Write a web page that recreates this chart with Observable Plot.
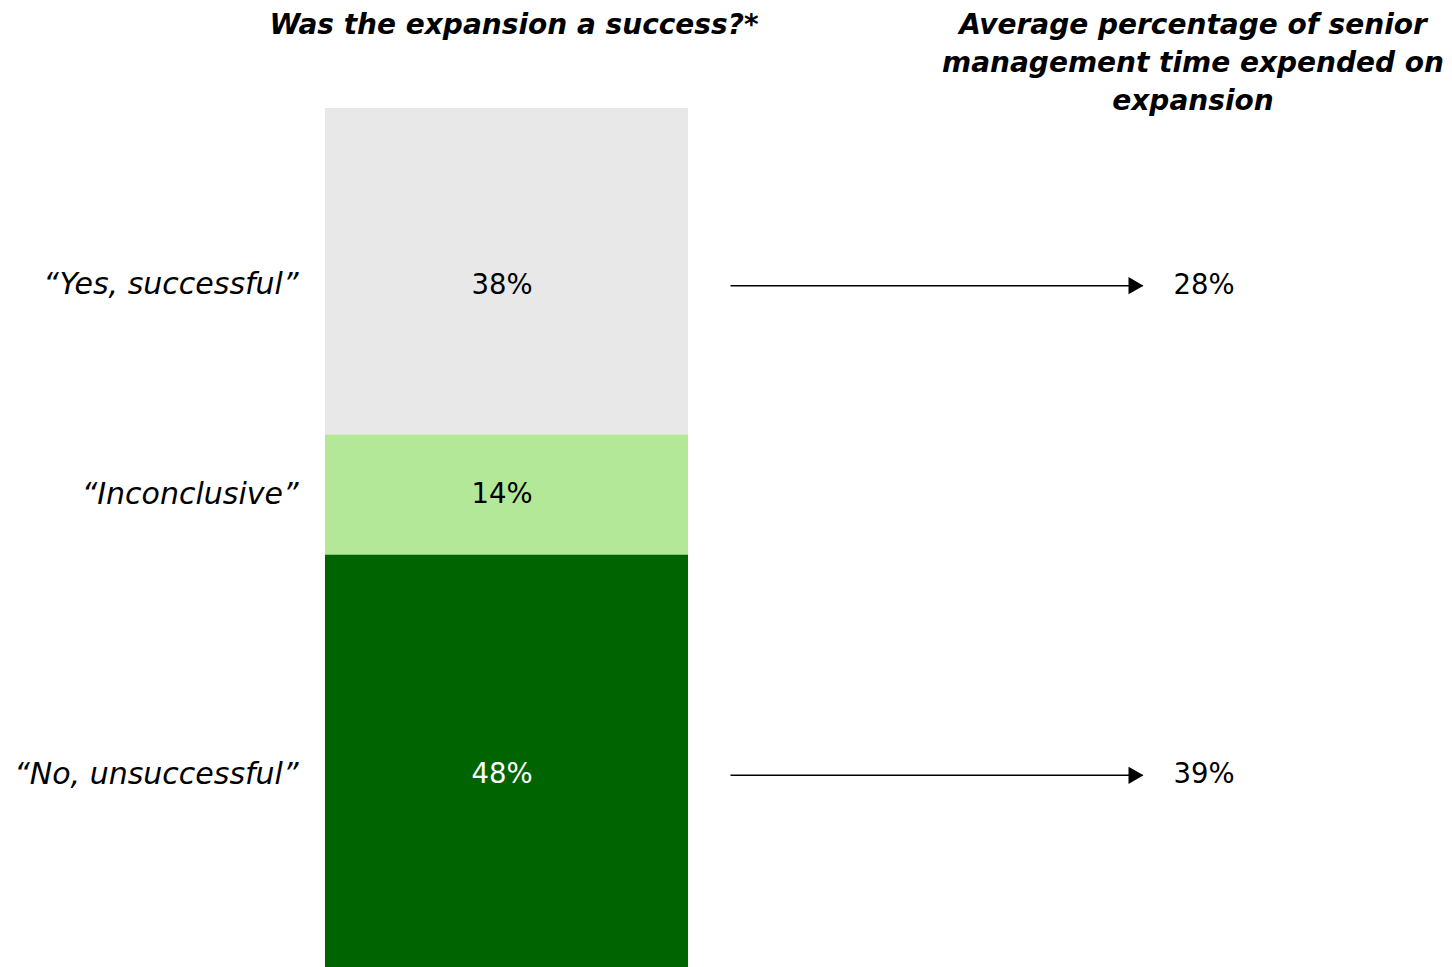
<!DOCTYPE html>
<html>
<head>
<meta charset="utf-8">
<script src="https://cdn.jsdelivr.net/npm/d3@7"></script>
<script src="https://cdn.jsdelivr.net/npm/@observablehq/plot@0.6"></script>
<style>
  html, body { margin: 0; padding: 0; background: #fff; }
  body { width: 1452px; height: 967px; overflow: hidden; font-family: "DejaVu Sans", sans-serif; }
  #header { position: relative; height: 108px; width: 1452px; }
  .title { position: absolute; font-weight: bold; font-style: italic; color: #000; text-align: center; font-size: 28px; line-height: 38px; }
  #t1 { left: 249px; width: 530px; top: 6px; }
  #t2 { left: 920px; width: 546px; top: 6px; }
  #chart svg { display: block; }
</style>
</head>
<body>
<div id="header">
  <div class="title" id="t1">Was the expansion a success?*</div>
  <div class="title" id="t2">Average percentage of senior<br>management time expended on<br>expansion</div>
</div>
<div id="chart"></div>
<script>
const categories = ["\u201cYes, successful\u201d", "\u201cInconclusive\u201d", "\u201cNo, unsuccessful\u201d"];
const shares = [38, 14, 48];
const seniorTime = [28, null, 39];
const fills = ["#e8e8e8", "#b3e899", "#006400"];
const labelColors = ["#000000", "#000000", "#ffffff"];

const rows = categories.map((c, i) => ({category: c, share: shares[i], time: seniorTime[i], fill: fills[i], ink: labelColors[i]}));

// layout (x units: bar spans 0..1)
const arrowFrom = 1.1157, arrowTo = 2.2507;
const stacked = Plot.stackY({x1: 0, x2: 1, y: "share", order: null});

const withY = (() => {
  let acc = 0;
  return rows.map(r => { const y = acc + r.share / 2; acc += r.share; return {...r, ym: y}; });
})();
// label nudges (px) to match the reference's text placement within segments
const nudged = withY.filter(d => d.share !== 14);
const plain = withY.filter(d => d.share === 14);
const arrows = withY.filter(d => d.time != null);

const fontFamily = "DejaVu Sans, sans-serif";

const textMarks = (data, dy) => [
  Plot.text(data, {x: 0.5, y: "ym", dx: -5, dy, text: d => d.share + "%", fill: "ink", fontSize: 27.5}),
  Plot.text(data, {x: 0, y: "ym", dx: -27, dy, text: "category", textAnchor: "end", fontStyle: "italic", fontSize: 30, fill: "black"})
];

const chart = Plot.plot({
  width: 1452,
  height: 859,
  margin: 0,
  x: {domain: [0, 1], range: [325, 688], axis: null},
  y: {domain: [0, 100], range: [0, 859], axis: null},
  style: {fontFamily, background: "white"},
  marks: [
    Plot.rectY(rows, {...stacked, fill: "fill"}),
    ...textMarks(nudged, 13),
    ...textMarks(plain, -1),
    Plot.link(arrows, {x1: arrowFrom, x2: arrowTo, y1: "ym", y2: "ym", dy: 14, stroke: "black", strokeWidth: 1.5}),
    Plot.dot(arrows, {x: arrowTo, y: "ym", symbol: "triangle", rotate: 90, r: 6.4, dx: -9, dy: 14, fill: "black", stroke: "none"}),
    Plot.text(arrows, {x: arrowTo, y: "ym", dx: 31, dy: 13, text: d => d.time + "%", textAnchor: "start", fontSize: 27.5, fill: "black"})
  ]
});
document.getElementById("chart").append(chart);
</script>
</body>
</html>
